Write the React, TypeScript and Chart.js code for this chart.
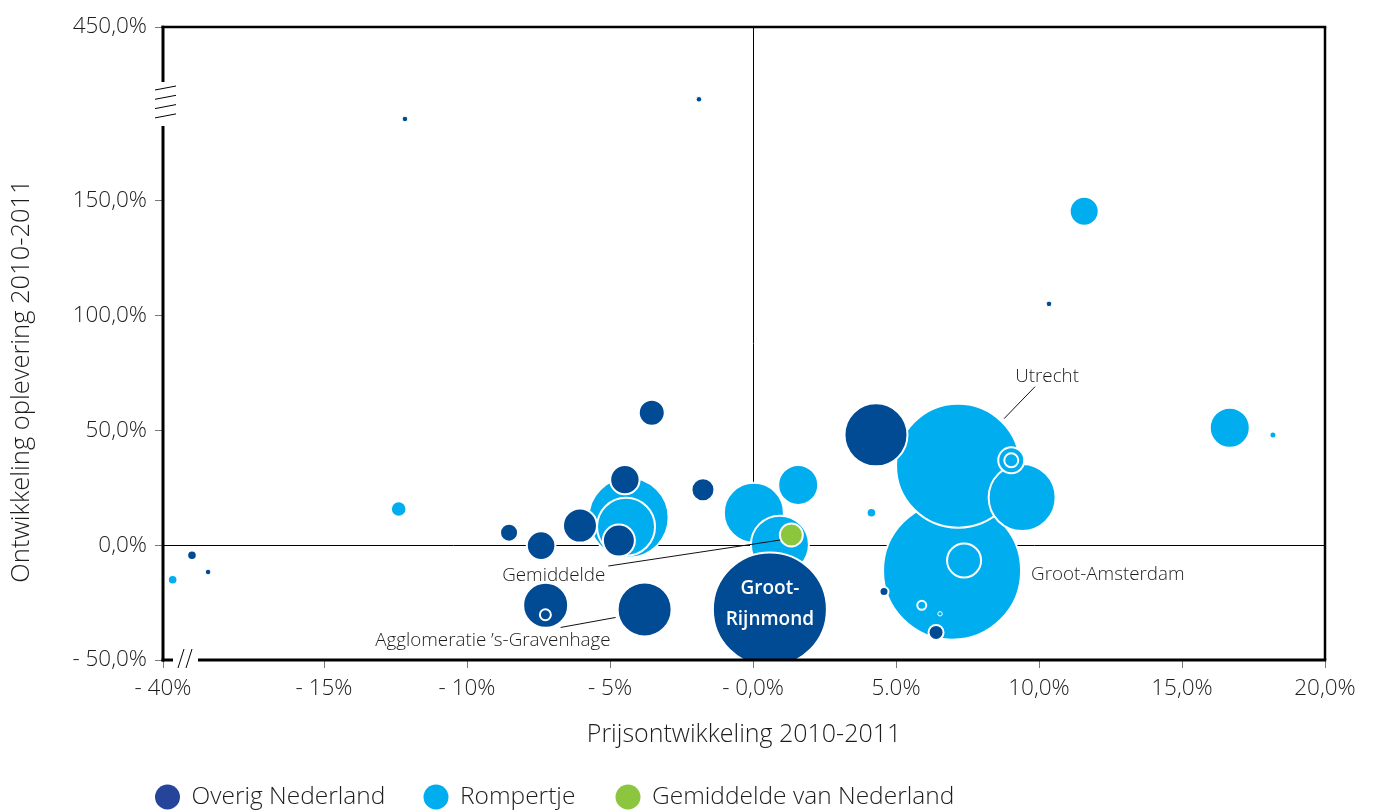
import React, { useEffect, useRef } from "react";
import { Chart, registerables } from "chart.js";

Chart.register(...registerables);

// ---------- data ----------
const SERIES_NAMES = ["Gemiddelde van Nederland", "Overig Nederland", "Rompertje"];

const X_TICKS = [-40, -15, -10, -5, 0, 5, 10, 15, 20];
const X_TICK_LABELS = ["- 40%", "- 15%", "- 10%", "- 5%", "- 0,0%", "5.0%", "10,0%", "15,0%", "20,0%"];
const Y_TICKS = [-50, 0, 50, 100, 150, 450];
const Y_TICK_LABELS = ["- 50,0%", "0,0%", "50,0%", "100,0%", "150,0%", "450,0%"];

// Overig Nederland: price change (%), completion change (%), bubble radius
const overigX = [-3.54, -4.48, -4.69, -6.05, -7.41, -8.53, -1.75, 0.59, 4.3, 4.58, 6.4, 10.35, -7.25, -7.26, -3.79, -12.17, -1.89, -35.5, -33.0];
const overigY = [57.6, 28.5, 2.0, 8.5, -0.2, 5.4, 24.1, -28.0, 48.0, -20.2, -38.0, 105.0, -26.2, -30.3, -28.0, 291, 325, -4.4, -11.7];
const overigSize = [13, 14.7, 16, 17, 14.3, 9, 11.5, 57, 31.5, 4.5, 7.5, 2.8, 22.5, 5.5, 27, 2.8, 2.8, 4.8, 2.8];

// Rompertje
const rompX = [6.96, 7.17, 9.41, 9.03, 9.03, 7.38, 5.9, 6.54, -4.35, -4.44, 0.03, 0.94, 1.58, 4.14, 11.58, 16.67, 18.18, -12.39, -38.5];
const rompY = [-11.1, 34.6, 20.7, 36.9, 36.9, -6.7, -26.2, -29.9, 12.0, 8.0, 14.1, 0.2, 26.2, 14.1, 145.3, 51.1, 47.9, 15.7, -15.1];
const rompSize = [69, 62, 33.5, 13, 7, 17, 4.5, 2.2, 40, 29, 30, 29, 20, 4.8, 14.5, 20, 3.5, 7.8, 4.8];

// Gemiddelde van Nederland
const gemX = [1.34];
const gemY = [4.4];
const gemSize = [11.5];

// ---------- axis breaks ----------
const X_BREAK = -15;
const X_COMPRESS = 0.2252;
const Y_BREAK = 150;
const Y_COMPRESS = 0.2517;
const toAxisX = (v: number) => (v >= X_BREAK ? v : X_BREAK + (v - X_BREAK) * X_COMPRESS);
const toAxisY = (v: number) => (v <= Y_BREAK ? v : Y_BREAK + (v - Y_BREAK) * Y_COMPRESS);

const build = (xs: number[], ys: number[], rs: number[]) =>
  xs.map((x, i) => ({ x: toAxisX(x), y: toAxisY(ys[i]), r: rs[i] }));

// ---------- styles ----------
const FONT = "'Open Sans', 'Noto Sans', sans-serif";
const TEXT = "#1d1d1b";
const DARK = "#004b93";
const LIGHT = "#00aeef";
const GREEN = "#8cc63f";
const LEGEND_SWATCH = ["#27449b", LIGHT, GREEN];

type Ann = {
  text: string;
  ds: number;
  idx: number;
  dx: number;
  dy: number;
  align: CanvasTextAlign;
  line?: [number, number, number, number];
  color?: string;
  weight?: string;
  size?: number;
};

const ANNOTATIONS: Ann[] = [
  { text: "Utrecht", ds: 2, idx: 1, dx: 89, dy: -89, align: "center", line: [77, -79, 46, -47] },
  { text: "Groot-Amsterdam", ds: 2, idx: 0, dx: 79, dy: 4, align: "left" },
  { text: "Gemiddelde", ds: 0, idx: 0, dx: -186, dy: 41, align: "right", line: [-183, 31, -11, 5] },
  { text: "Agglomeratie \u2019s-Gravenhage", ds: 1, idx: 14, dx: -34, dy: 31, align: "right", line: [-84, 18, -29, 8] },
  { text: "Groot-", ds: 1, idx: 7, dx: 0, dy: -21, align: "center", color: "#ffffff", weight: "600", size: 19 },
  { text: "Rijnmond", ds: 1, idx: 7, dx: 0, dy: 10, align: "center", color: "#ffffff", weight: "600", size: 19 },
];

const annotationPlugin = {
  id: "bubbleAnnotations",
  afterDatasetsDraw(chart: any) {
    const ctx: CanvasRenderingContext2D = chart.ctx;
    ctx.save();
    for (const a of ANNOTATIONS) {
      const el = chart.getDatasetMeta(a.ds).data[a.idx];
      if (!el) continue;
      const x = el.x;
      const y = el.y;
      if (a.line) {
        ctx.beginPath();
        ctx.moveTo(x + a.line[0], y + a.line[1]);
        ctx.lineTo(x + a.line[2], y + a.line[3]);
        ctx.strokeStyle = "#111";
        ctx.lineWidth = 1;
        ctx.stroke();
      }
      ctx.font = `${a.weight || "300"} ${a.size || 18.8}px ${FONT}`;
      ctx.fillStyle = a.color || TEXT;
      ctx.textAlign = a.align;
      ctx.textBaseline = "middle";
      ctx.fillText(a.text, x + a.dx, y + a.dy);
    }
    ctx.restore();
  },
};

const framePlugin = {
  id: "brokenFrame",
  afterDraw(chart: any) {
    const ctx: CanvasRenderingContext2D = chart.ctx;
    const { left, right, top, bottom } = chart.chartArea;
    const seg = (x1: number, y1: number, x2: number, y2: number) => {
      ctx.beginPath();
      ctx.moveTo(x1, y1);
      ctx.lineTo(x2, y2);
      ctx.stroke();
    };
    ctx.save();
    ctx.strokeStyle = "#000";
    ctx.lineCap = "butt";
    ctx.lineWidth = 2.5;
    seg(left - 1.5, top, right + 1.25, top);
    seg(right, top, right, bottom);
    ctx.lineWidth = 3;
    seg(left, top - 1.25, left, top + 55);
    seg(left, top + 99, left, bottom + 1.5);
    seg(left - 1.5, bottom, left + 10, bottom);
    seg(left + 35, bottom, right + 1.25, bottom);
    ctx.lineWidth = 1;
    for (let i = 0; i < 4; i++) {
      const yy = top + 63 + 9.3 * i;
      seg(left - 8, yy, left + 13, yy - 4);
    }
    seg(left + 15, bottom + 8, left + 21, bottom - 11);
    seg(left + 23, bottom + 8, left + 29, bottom - 11);
    ctx.restore();
  },
};

const LEGEND_ORDER = [1, 2, 0];
const LEGEND_X = [167.5, 436, 628];

const legendAndTitlePlugin = {
  id: "legendAndTitle",
  afterDraw(chart: any) {
    const ctx: CanvasRenderingContext2D = chart.ctx;
    ctx.save();
    // legend
    LEGEND_ORDER.forEach((dsIdx, i) => {
      const cx = LEGEND_X[i];
      const cy = 797;
      ctx.beginPath();
      ctx.arc(cx, cy, 12.5, 0, Math.PI * 2);
      ctx.fillStyle = LEGEND_SWATCH[i];
      ctx.fill();
      ctx.font = `300 24.5px ${FONT}`;
      ctx.fillStyle = TEXT;
      ctx.textAlign = "left";
      ctx.textBaseline = "middle";
      ctx.fillText(chart.data.datasets[dsIdx].label, cx + 24, cy);
    });
    // y-axis title
    ctx.translate(22, 381);
    ctx.rotate(-Math.PI / 2);
    ctx.font = `300 25.5px ${FONT}`;
    ctx.fillStyle = TEXT;
    ctx.textAlign = "center";
    ctx.textBaseline = "middle";
    ctx.fillText("Ontwikkeling oplevering 2010-2011", 0, 0);
    ctx.restore();
  },
};

const gridColor = (c: any) => (c.tick && Math.abs(c.tick.value) < 1e-9 ? "#000000" : "rgba(0,0,0,0)");
const borderW = (c: any) => (c.raw && c.raw.r < 3 ? 1 : 2);

export default function App() {
  const canvasRef = useRef<HTMLCanvasElement | null>(null);

  useEffect(() => {
    document.body.style.margin = "0";
    const canvas = canvasRef.current;
    if (!canvas) return;
    const chart = new Chart(canvas, {
      type: "bubble",
      data: {
        datasets: [
          {
            label: SERIES_NAMES[0],
            data: build(gemX, gemY, gemSize),
            backgroundColor: GREEN,
            borderColor: "#ffffff",
            borderWidth: borderW,
          },
          {
            label: SERIES_NAMES[1],
            data: build(overigX, overigY, overigSize),
            backgroundColor: DARK,
            borderColor: "#ffffff",
            borderWidth: borderW,
          },
          {
            label: SERIES_NAMES[2],
            data: build(rompX, rompY, rompSize),
            backgroundColor: LIGHT,
            borderColor: "#ffffff",
            borderWidth: borderW,
          },
        ],
      } as any,
      options: {
        animation: false,
        responsive: false,
        events: [],
        layout: { autoPadding: false, padding: { top: 27, right: 50, left: 0, bottom: 0 } },
        plugins: {
          legend: { display: false },
          tooltip: { enabled: false },
        },
        scales: {
          x: {
            type: "linear",
            min: toAxisX(-40),
            max: 20,
            afterBuildTicks: (axis: any) => {
              axis.ticks = X_TICKS.map((v) => ({ value: toAxisX(v) }));
            },
            afterFit: (axis: any) => {
              axis.height = 152;
            },
            ticks: {
              autoSkip: false,
              maxRotation: 0,
              padding: 7,
              color: TEXT,
              font: { family: FONT, size: 22.5, weight: "300" },
              callback: (_v: any, i: number) => X_TICK_LABELS[i],
            },
            grid: {
              color: gridColor,
              lineWidth: 1,
              tickColor: "#777777",
              tickLength: 8,
              drawTicks: true,
            },
            border: { display: false },
            title: {
              display: true,
              text: "Prijsontwikkeling 2010-2011",
              color: TEXT,
              font: { family: FONT, size: 25, weight: "300" },
              padding: { top: 0, bottom: 62 },
            },
          },
          y: {
            type: "linear",
            min: -50,
            max: toAxisY(450),
            afterBuildTicks: (axis: any) => {
              axis.ticks = Y_TICKS.map((v) => ({ value: toAxisY(v) }));
            },
            afterFit: (axis: any) => {
              axis.width = 163;
            },
            ticks: {
              autoSkip: false,
              padding: 8,
              color: TEXT,
              font: { family: FONT, size: 22.5, weight: "300" },
              callback: (_v: any, i: number) => Y_TICK_LABELS[i],
            },
            grid: {
              color: gridColor,
              lineWidth: 1,
              tickColor: "#777777",
              tickLength: 8,
              drawTicks: true,
            },
            border: { display: false },
          },
        },
      } as any,
      plugins: [annotationPlugin, framePlugin, legendAndTitlePlugin],
    });
    return () => chart.destroy();
  }, []);

  return (
    <div style={{ width: 1375, height: 812, position: "relative", background: "#fff" }}>
      <canvas ref={canvasRef} width={1375} height={812} style={{ display: "block" }} />
    </div>
  );
}
